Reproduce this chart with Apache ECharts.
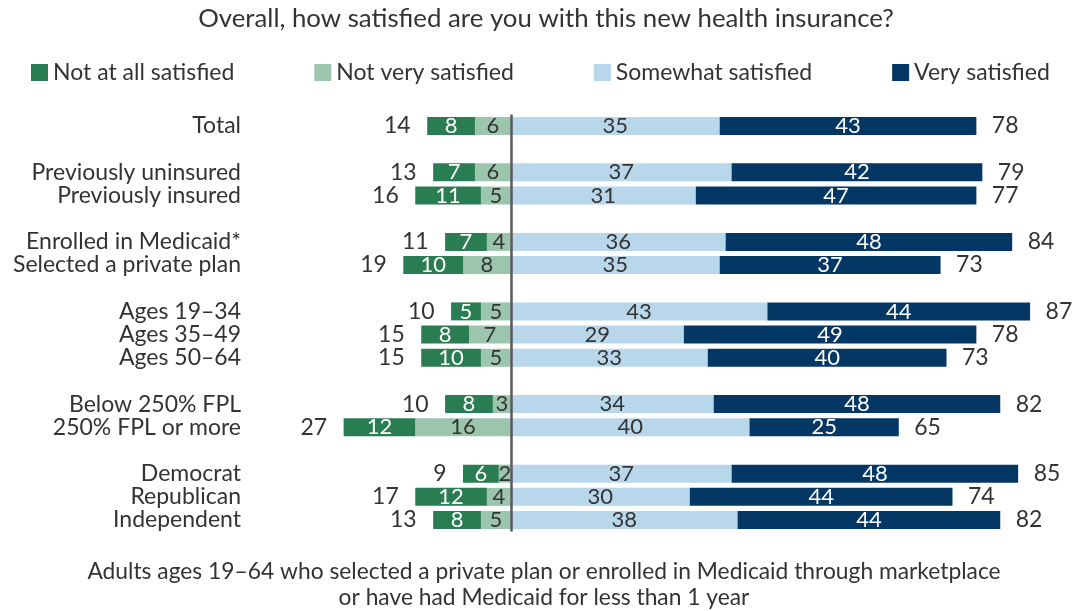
<!DOCTYPE html>
<html>
<head>
<meta charset="utf-8">
<script src="https://cdn.jsdelivr.net/npm/echarts@6/dist/echarts.min.js"></script>
<style>
  html, body { margin: 0; padding: 0; background: #ffffff; }
  #chart { width: 1074px; height: 611px; }
</style>
</head>
<body>
<div id="chart"></div>
<script>
// Row labels; blank rows separate the groups
const categories = [
  'Total', ' ',
  'Previously uninsured', 'Previously insured', '  ',
  'Enrolled in Medicaid*', 'Selected a private plan', '   ',
  'Ages 19–34', 'Ages 35–49', 'Ages 50–64', '    ',
  'Below 250% FPL', '250% FPL or more', '     ',
  'Democrat', 'Republican', 'Independent'
];

const notAtAll  = [8, null, 7, 11, null, 7, 10, null, 5, 8, 10, null, 8, 12, null, 6, 12, 8];
const notVery   = [6, null, 6, 5, null, 4, 8, null, 5, 7, 5, null, 3, 16, null, 2, 4, 5];
const somewhat  = [35, null, 37, 31, null, 36, 35, null, 43, 29, 33, null, 34, 40, null, 37, 30, 38];
const very      = [43, null, 42, 47, null, 48, 37, null, 44, 49, 40, null, 48, 25, null, 48, 44, 44];

// Net totals printed at the ends of each bar
const dissatisfiedTotal = [14, null, 13, 16, null, 11, 19, null, 10, 15, 15, null, 10, 27, null, 9, 17, 13];
const satisfiedTotal    = [78, null, 79, 77, null, 84, 73, null, 87, 78, 73, null, 82, 65, null, 85, 74, 82];

const seriesNames = ['Not at all satisfied', 'Not very satisfied', 'Somewhat satisfied', 'Very satisfied'];
const colors = ['#2a7d52', '#9cc5ae', '#b8d7eb', '#053764'];

const FONT = 'Lato';
const TEXT = '#333333';

const chart = echarts.init(document.getElementById('chart'));

function segLabel(color) {
  return {
    show: true,
    position: 'inside',
    color: color,
    fontFamily: FONT,
    fontSize: 22,
    formatter: p => (p.value == null ? '' : Math.abs(p.value))
  };
}

const leftEnds = categories.map((c, i) =>
  notAtAll[i] == null ? null : [-(notAtAll[i] + notVery[i]), i, dissatisfiedTotal[i]]);
const rightEnds = categories.map((c, i) =>
  somewhat[i] == null ? null : [somewhat[i] + very[i], i, satisfiedTotal[i]]);

const option = {
  backgroundColor: '#ffffff',
  animation: false,
  title: [
    {
      text: 'Overall, how satisfied are you with this new health insurance?',
      left: 546,
      textAlign: 'center',
      top: 6,
      padding: 0,
      textStyle: { fontFamily: FONT, fontSize: 25.8, fontWeight: 'normal', color: TEXT }
    },
    {
      text: 'Adults ages 19–64 who selected a private plan or enrolled in Medicaid through marketplace\nor have had Medicaid for less than 1 year',
      left: 544,
      textAlign: 'center',
      top: 559,
      padding: 0,
      textStyle: { fontFamily: FONT, fontSize: 22.8, fontWeight: 'normal', color: TEXT, lineHeight: 26 }
    }
  ],
  legend: {
    data: seriesNames,
    left: 31,
    top: 61,
    padding: 0,
    itemWidth: 17,
    itemHeight: 17,
    itemGap: 80,
    icon: 'rect',
    textStyle: { fontFamily: FONT, fontSize: 23, color: TEXT }
  },
  grid: { left: 272, width: 776, top: 114.4, height: 417.2, containLabel: false },
  xAxis: {
    type: 'value',
    min: -40,
    max: 90,
    show: false
  },
  yAxis: {
    type: 'category',
    data: categories,
    inverse: true,
    axisLine: { show: false },
    axisTick: { show: false },
    splitLine: { show: false },
    axisLabel: { interval: 0, margin: 31, fontFamily: FONT, fontSize: 23, color: TEXT }
  },
  series: [
    {
      name: seriesNames[1], type: 'bar', stack: 'all', barWidth: 18,
      itemStyle: { color: colors[1] },
      label: segLabel(TEXT),
      data: notVery.map(v => (v == null ? null : -v))
    },
    {
      name: seriesNames[0], type: 'bar', stack: 'all', barWidth: 18,
      itemStyle: { color: colors[0] },
      label: segLabel('#ffffff'),
      data: notAtAll.map(v => (v == null ? null : -v))
    },
    {
      name: seriesNames[2], type: 'bar', stack: 'all', barWidth: 18,
      itemStyle: { color: colors[2] },
      label: segLabel(TEXT),
      data: somewhat,
      markLine: {
        silent: true,
        symbol: 'none',
        label: { show: false },
        lineStyle: { color: '#595959', width: 2.5, type: 'solid' },
        data: [{ xAxis: 0 }]
      }
    },
    {
      name: seriesNames[3], type: 'bar', stack: 'all', barWidth: 18,
      itemStyle: { color: colors[3] },
      label: segLabel('#ffffff'),
      data: very
    },
    {
      name: 'dissatisfiedTotal', type: 'scatter', symbolSize: 1,
      itemStyle: { color: 'rgba(0,0,0,0)', opacity: 1 },
      label: {
        show: true, position: 'left', distance: 16,
        fontFamily: FONT, fontSize: 23, color: TEXT,
        formatter: p => p.value[2]
      },
      data: leftEnds
    },
    {
      name: 'satisfiedTotal', type: 'scatter', symbolSize: 1,
      itemStyle: { color: 'rgba(0,0,0,0)', opacity: 1 },
      label: {
        show: true, position: 'right', distance: 15,
        fontFamily: FONT, fontSize: 23, color: TEXT,
        formatter: p => p.value[2]
      },
      data: rightEnds
    }
  ]
};

chart.setOption(option);
</script>
</body>
</html>
